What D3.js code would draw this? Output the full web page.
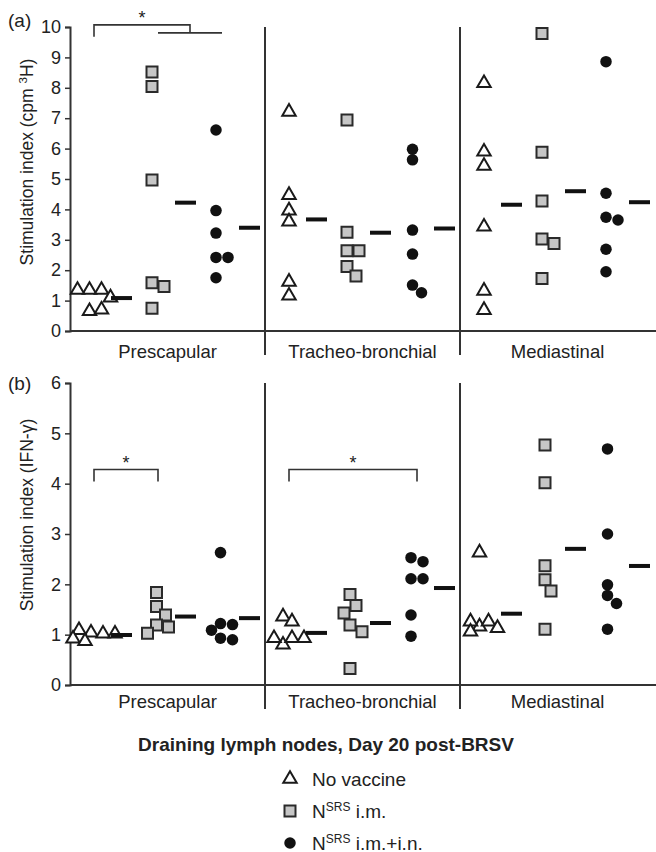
<!DOCTYPE html>
<html>
<head>
<meta charset="utf-8">
<script src="https://cdn.jsdelivr.net/npm/d3@7"></script>
<style>
body{margin:0;background:#fff;}
text{font-family:"Liberation Sans",Arial,sans-serif;fill:#222;}
</style>
</head>
<body>
<svg id="chart" width="656" height="852"></svg>
<script>
// categories and groups
const categories = ["Prescapular", "Tracheo-bronchial", "Mediastinal"];
const groups = ["none", "im", "imin"];

// panel (a) stimulation index, cpm 3H  (one array per lymph node)
const cpmNoVaccine = [[1.35,1.35,1.35,1.1,0.65,0.7],[7.21,4.47,3.96,3.6,1.62,1.16],[8.15,5.9,5.43,3.43,1.32,0.69]];
const cpmIm        = [[8.52,8.04,4.97,1.59,1.46,0.75],[6.94,3.25,2.64,2.64,2.12,1.81],[9.79,5.88,4.28,3.03,2.88,1.73]];
const cpmImIn      = [[6.61,3.96,3.22,2.42,2.42,1.75],[5.98,5.63,3.32,2.53,1.51,1.26],[8.86,4.53,3.74,3.65,2.69,1.95]];

// panel (b) stimulation index, IFN-gamma
const ifnNoVaccine = [[1.04,1.02,1.09,1.02,0.92,0.87],[1.36,1.26,0.80,0.93,0.93,0.93],[2.63,1.16,1.26,1.26,1.13,1.06]];
const ifnIm        = [[1.84,1.56,1.39,1.19,1.15,1.03],[1.80,1.58,1.43,1.19,1.06,0.33],[4.77,4.02,2.37,2.09,1.87,1.11]];
const ifnImIn      = [[2.63,1.22,1.2,1.09,0.93,0.9],[2.53,2.45,2.11,2.11,1.39,0.97],[4.69,3.0,1.99,1.78,1.62,1.11]];

const cpmTicks = d3.range(0, 11);
const ifnTicks = d3.range(0, 7);

// significance brackets
const sigA = [{cat:"Prescapular", from:["none"], to:["im","imin"], level:10.07}];
const sigB = [{cat:"Prescapular", from:["none"], to:["im"], level:4.28},
              {cat:"Tracheo-bronchial", from:["none"], to:["imin"], level:4.28}];

const legendRows = [
    {g:"none", text:"No vaccine"},
    {g:"im", text:"N", sup:"SRS", rest:" i.m."},
    {g:"imin", text:"N", sup:"SRS", rest:" i.m.+i.n."}
];

let svg = d3.select("#chart");
let left = 70, right = 655;

let x = d3.scaleBand().domain(categories).range([left, right]);
let xg = d3.scalePoint().domain(groups).range([24, 152]);

let symbols = {
    none: d3.symbol(d3.symbolTriangle, 78),
    im: d3.symbol(d3.symbolSquare, 121),
    imin: d3.symbol(d3.symbolCircle, 104)
};
let styles = {
    none: {fill:"#fff", stroke:"#1a1a1a", r:10},
    im: {fill:"#c6c6c6", stroke:"#2a2a2a", r:12},
    imin: {fill:"#111", stroke:"none", r:10.5}
};

// simple beeswarm: push points sideways until they don't overlap, then recentre
function dodge(ys, r){
    let placed = [];
    let offs = ys.map(yv => {
        for(let k = 0; k < 40; k++){
            let dx = (k % 2 ? 1 : -1) * Math.ceil(k / 2) * 3;
            if(placed.every(p => (p.x - dx) ** 2 + (p.y - yv) ** 2 >= r * r)){
                placed.push({x:dx, y:yv});
                return dx;
            }
        }
        return 0;
    });
    let mid = (d3.min(offs) + d3.max(offs)) / 2;
    return offs.map(o => o - mid);
}

let panels = [
    {label:"(a)", series:[cpmNoVaccine, cpmIm, cpmImIn], ticks:cpmTicks, max:10, top:27, bottom:331,
     title:[{t:"Stimulation index (cpm "},{t:"3",sup:true},{t:"H)"}], titleY:162, catPad:14, sig:sigA, labelY:27},
    {label:"(b)", series:[ifnNoVaccine, ifnIm, ifnImIn], ticks:ifnTicks, max:6, top:383, bottom:685,
     title:[{t:"Stimulation index (IFN-γ)"}], titleY:515, catPad:10, sig:sigB, labelY:390}
];

panels.forEach(p => {
    let y = d3.scaleLinear().domain([0, p.max]).range([p.bottom, p.top]);
    let g = svg.append("g");

    // dividers between lymph nodes
    g.selectAll(".divider").data(categories.slice(1)).join("line")
        .attr("x1", d => x(d)).attr("x2", d => x(d))
        .attr("y1", p.top).attr("y2", p.bottom + 24)
        .attr("stroke", "#333").attr("stroke-width", 2);

    // y axis
    g.append("g").attr("transform", `translate(${left},0)`)
        .call(d3.axisLeft(y).tickValues(p.ticks).tickFormat(d3.format("d")).tickSize(5).tickPadding(4))
        .call(a => {
            a.select(".domain").attr("stroke", "#333").attr("stroke-width", 2);
            a.selectAll(".tick line").attr("stroke", "#333").attr("stroke-width", 1.5);
            a.selectAll(".tick text").style("font-size", "18px");
        });

    // x axis with category labels
    g.append("g").attr("transform", `translate(0,${p.bottom})`)
        .call(d3.axisBottom(x).tickSize(0).tickPadding(p.catPad))
        .call(a => {
            a.select(".domain").attr("d", `M${left},0H656`).attr("stroke", "#333").attr("stroke-width", 2);
            a.selectAll(".tick text").style("font-size", "18.5px");
        });

    // y title
    let t = g.append("text")
        .attr("transform", `translate(27,${p.titleY}) rotate(-90)`)
        .attr("text-anchor", "middle").style("font-size", "17.5px");
    p.title.forEach(part => {
        if(part.sup){
            t.append("tspan").attr("dy", -6).style("font-size", "11.5px").text(part.t);
        }else{
            t.append("tspan").attr("dy", t.selectAll("tspan").size() ? 6 : 0).text(part.t);
        }
    });

    // panel label
    g.append("text").attr("x", 8).attr("y", p.labelY).style("font-size", "19px").text(p.label);

    // points and mean bars
    groups.forEach((grp, gi) => {
        categories.forEach((cat, ci) => {
            let vals = p.series[gi][ci];
            let cx = x(cat) + xg(grp);
            let offs = dodge(vals.map(v => y(v)), styles[grp].r);
            g.append("g").selectAll("path").data(vals).join("path")
                .attr("d", symbols[grp])
                .attr("transform", (d, i) => `translate(${cx + offs[i]},${y(d)})`)
                .attr("fill", styles[grp].fill)
                .attr("stroke", styles[grp].stroke)
                .attr("stroke-width", 2);
            g.append("rect")
                .attr("x", cx + 17).attr("width", 21)
                .attr("y", y(d3.mean(vals)) - 2).attr("height", 4)
                .attr("fill", "#111");
        });
    });

    // significance brackets
    p.sig.forEach(s => {
        let fx = d3.mean(s.from, d => x(s.cat) + xg(d));
        let toXs = s.to.map(d => x(s.cat) + xg(d));
        let tx = d3.mean(toXs);
        let yt = y(s.level);
        let path = d3.path();
        path.moveTo(fx, yt + 12); path.lineTo(fx, yt); path.lineTo(tx, yt);
        if(toXs.length > 1){
            path.lineTo(tx, yt + 8);
            path.moveTo(d3.min(toXs), yt + 8); path.lineTo(d3.max(toXs), yt + 8);
        }else{
            path.lineTo(tx, yt + 12);
        }
        g.append("path").attr("d", path.toString()).attr("fill", "none")
            .attr("stroke", "#333").attr("stroke-width", 1.6);
        g.append("text").attr("x", (fx + tx) / 2).attr("y", yt - 1)
            .attr("text-anchor", "middle").style("font-size", "18px").text("*");
    });
});

// x title
svg.append("text").attr("x", 326).attr("y", 751).attr("text-anchor", "middle")
    .style("font-size", "19px").style("font-weight", "bold")
    .text("Draining lymph nodes, Day 20 post-BRSV");

// legend
let legend = svg.append("g").attr("transform", "translate(290,779)");
legendRows.forEach((row, i) => {
    let lg = legend.append("g").attr("transform", `translate(0,${i * 32})`);
    lg.append("path").attr("d", symbols[row.g])
        .attr("fill", styles[row.g].fill).attr("stroke", styles[row.g].stroke).attr("stroke-width", 2);
    let txt = lg.append("text").attr("x", 22).attr("y", 6.5).style("font-size", "19px");
    txt.append("tspan").text(row.text);
    if(row.sup){
        txt.append("tspan").attr("dy", -7).style("font-size", "12px").text(row.sup);
        txt.append("tspan").attr("dy", 7).text(row.rest);
    }
});
</script>
</body>
</html>
